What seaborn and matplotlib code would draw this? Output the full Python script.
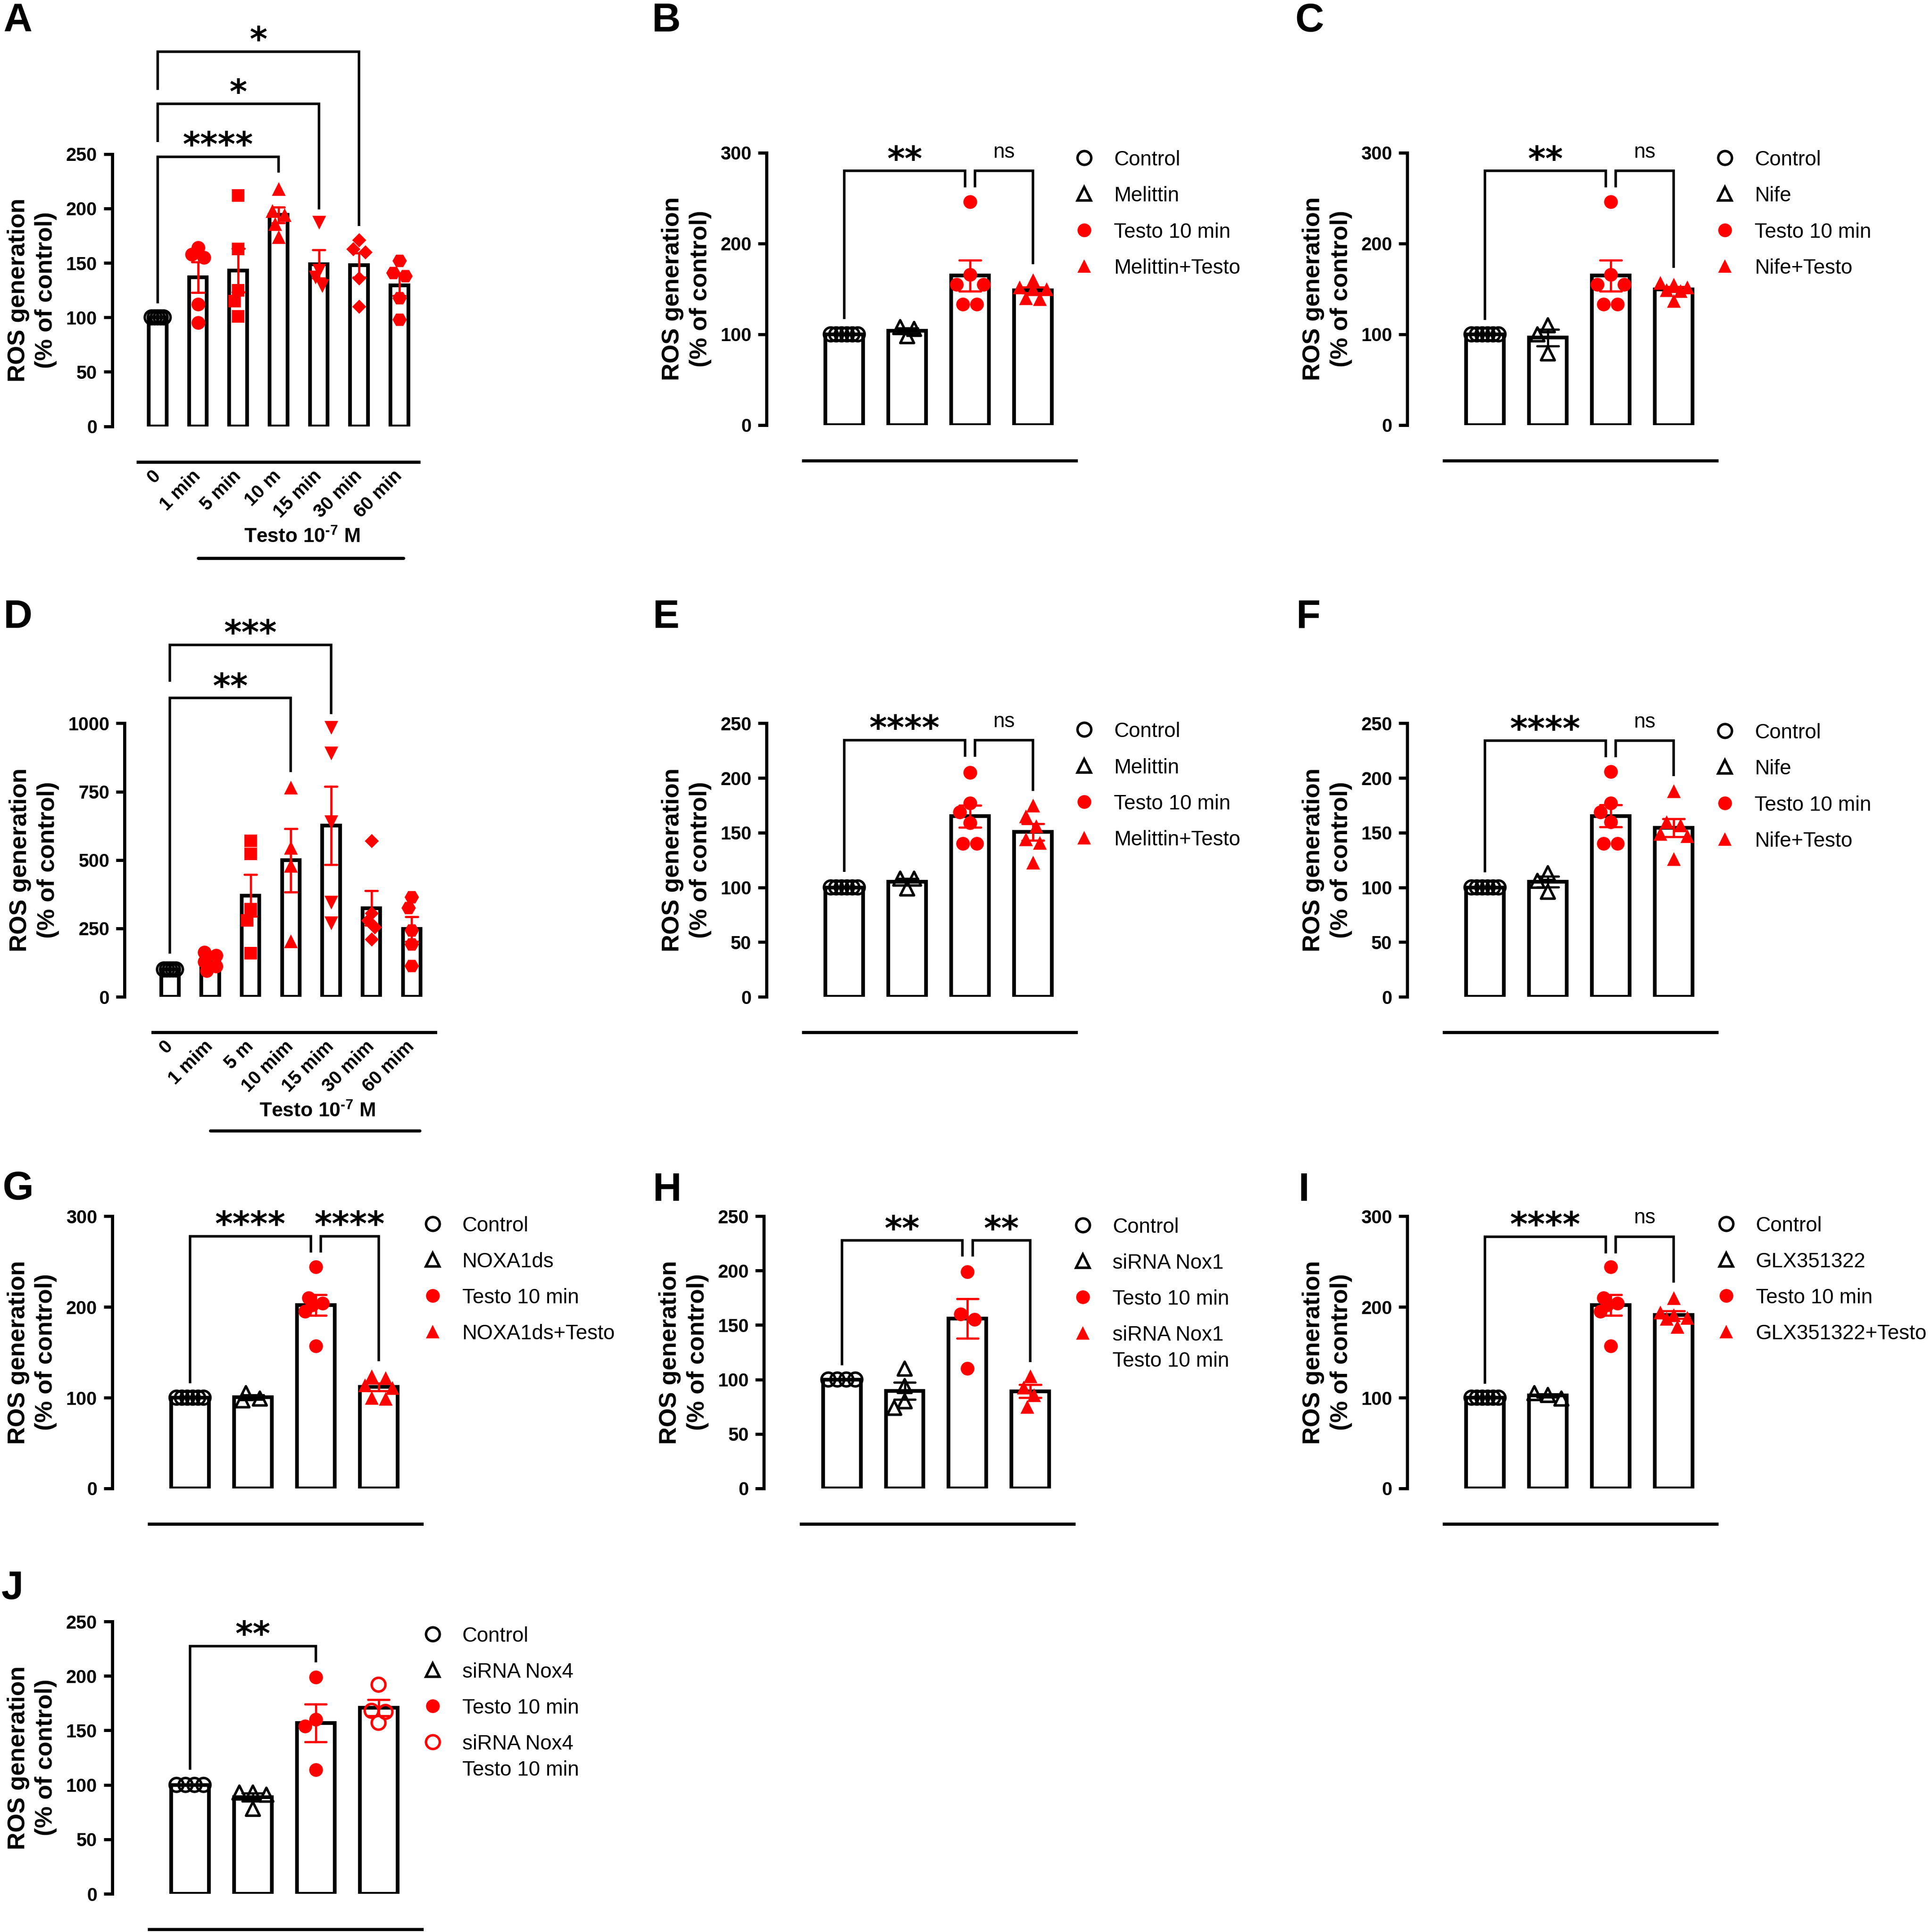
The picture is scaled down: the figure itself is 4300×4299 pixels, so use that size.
import numpy as np
import pandas as pd
import matplotlib.pyplot as plt
import matplotlib.transforms as mtrans
from matplotlib.lines import Line2D
import seaborn as sns

sns.set_style('ticks', {'axes.edgecolor': 'black', 'xtick.color': 'black', 'ytick.color': 'black',
                        'text.color': 'black', 'axes.labelcolor': 'black'})
plt.rcParams['font.family'] = ['Liberation Sans', 'DejaVu Sans']
plt.rcParams['mathtext.fontset'] = 'custom'
plt.rcParams['mathtext.rm'] = 'Liberation Sans:bold'
plt.rcParams['mathtext.bf'] = 'Liberation Sans:bold'

RED = '#ff0000'

# ---------------- data ----------------
# A: time course, Testo 10^-7 M
a_labels = ['0', '1 min', '5 min', '10 m', '15 min', '30 min', '60 min']
a_0 = [100, 100, 100, 100, 100]
a_1 = [164, 158, 155, 112, 95]
a_5 = [212, 163, 125, 115, 101]
a_10 = [218, 198, 194, 186, 174]
a_15 = [187, 143, 137, 129]
a_30 = [171, 163, 160, 136, 110]
a_60 = [152, 141, 138, 118, 98]

# B: melittin
b_labels = ['Control', 'Melittin', 'Testo 10 min', 'Melittin+Testo']
b_ctrl = [100, 100, 100, 100, 100, 100]
b_mel = [98, 108, 106]
b_testo = [246, 166, 155, 155, 133, 133]
b_mel_testo = [160, 152, 150, 150, 139, 140]

# C: nifedipine
c_labels = ['Control', 'Nife', 'Testo 10 min', 'Nife+Testo']
c_ctrl = [100, 100, 100, 100, 100, 100]
c_nife = [110, 100, 79]
c_testo = [246, 166, 155, 155, 133, 133]
c_nife_testo = [157, 155, 152, 149, 148, 137]

# D: second time course
d_labels = ['0', '1 mim', '5 m', '10 mim', '15 mim', '30 mim', '60 mim']
d_0 = [100, 100, 100, 100, 100]
d_1 = [162, 152, 128, 112, 96]
d_5 = [570, 522, 320, 280, 160]
d_10 = [766, 546, 480, 204]
d_15 = [985, 890, 640, 345, 270]
d_30 = [570, 305, 280, 255, 210]
d_60 = [364, 325, 243, 193, 114]

# E: melittin
e_labels = ['Control', 'Melittin', 'Testo 10 min', 'Melittin+Testo']
e_ctrl = [100, 100, 100, 100, 100, 100]
e_mel = [99, 108, 108]
e_testo = [205, 177, 169, 159, 140, 140]
e_mel_testo = [175, 165, 156, 144, 141, 123]

# F: nifedipine
f_labels = ['Control', 'Nife', 'Testo 10 min', 'Nife+Testo']
f_ctrl = [100, 100, 100, 100, 100, 100]
f_nife = [113, 106, 96]
f_testo = [206, 177, 169, 160, 140, 140]
f_nife_testo = [188, 160, 157, 149, 147, 126]

# G: NOXA1ds
g_labels = ['Control', 'NOXA1ds', 'Testo 10 min', 'NOXA1ds+Testo']
g_ctrl = [100, 100, 100, 100, 100, 100]
g_noxa = [97, 105, 99]
g_testo = [244, 210, 204, 202, 195, 157]
g_noxa_testo = [124, 122, 114, 111, 99, 100]

# H: siRNA Nox1
h_labels = ['Control', 'siRNA Nox1', 'Testo 10 min', 'siRNA Nox1\nTesto 10 min']
h_ctrl = [100, 100, 100, 100]
h_si = [110, 94, 80, 74]
h_testo = [199, 160, 155, 110]
h_si_testo = [103, 93, 86, 75]

# I: GLX351322
i_labels = ['Control', 'GLX351322', 'Testo 10 min', 'GLX351322+Testo']
i_ctrl = [100, 100, 100, 100, 100, 100]
i_glx = [99, 105, 103]
i_testo = [244, 210, 204, 202, 195, 157]
i_glx_testo = [210, 194, 191, 188, 187, 178]

# J: siRNA Nox4
j_labels = ['Control', 'siRNA Nox4', 'Testo 10 min', 'siRNA Nox4\nTesto 10 min']
j_ctrl = [100, 100, 100, 100]
j_si = [93, 93, 91, 78]
j_testo = [199, 160, 154, 114]
j_si_testo = [192, 168, 167, 157]

# significance brackets: (x1, x2, y, left leg end, right leg end, text)
a_sig = [(0, 3, 247.6, 113, 233, '****'), (0, 4, 296, 261, 199, '*'), (0, 5, 344, 309, 184, '*')]
b_sig = [(0, 1.92, 280, 117, 262, '**'), (2.08, 3, 280, 262, 177, 'ns')]
c_sig = [(0, 1.92, 280, 116, 262, '**'), (2.08, 3, 280, 262, 173, 'ns')]
d_sig = [(0, 3, 1092, 158, 822, '**'), (0, 4, 1287, 1151, 1033, '***')]
e_sig = [(0, 1.92, 234.6, 114, 219.5, '****'), (2.08, 3, 234.6, 219.5, 188, 'ns')]
f_sig = [(0, 1.92, 234, 113.6, 219, '****'), (2.08, 3, 234, 219, 201.5, 'ns')]
g_sig = [(0, 1.92, 278, 116, 260, '****'), (2.08, 3, 278, 260, 140, '****')]
h_sig = [(0, 1.92, 227.7, 113, 213, '**'), (2.08, 3, 227.7, 213, 116, '**')]
i_sig = [(0, 1.92, 277.5, 115.5, 259, '****'), (2.08, 3, 277.5, 259, 226.6, 'ns')]
j_sig = [(0, 2, 227.4, 113.8, 212.3, '**')]

# marker styles: (marker, colour, filled)
time_styles = [('o', 'black', False), ('o', RED, True), ('s', RED, True), ('^', RED, True),
               ('v', RED, True), ('D', RED, True), ('H', RED, True)]
four_styles = [('o', 'black', False), ('^', 'black', False), ('o', RED, True), ('^', RED, True)]
nox4_styles = [('o', 'black', False), ('^', 'black', False), ('o', RED, True), ('o', RED, False)]

MS = {'o': 22, 's': 20, '^': 22, 'v': 22, 'D': 16, 'H': 23}
DOT_PX = 31.0
S = 1568.0  # layout grid, reference pixels / 2.742

fig = plt.figure(figsize=(43, 42.99), dpi=100)


def spread(ax, vals, span):
    # deterministic Prism-like horizontal spread of the dots in one column
    vals = np.asarray(vals, float)
    ypx = ax.transData.transform(np.column_stack([np.zeros_like(vals), vals]))[:, 1]
    upx = ax.transData.transform((1, 0))[0] - ax.transData.transform((0, 0))[0]
    d = DOT_PX / upx
    order = np.argsort(-vals, kind='stable')
    rows, row = [], []
    for i in order:
        if row and ypx[row[0]] - ypx[i] > 0.4 * DOT_PX:
            rows.append(row)
            row = []
        row.append(i)
    rows.append(row)
    offs = np.zeros(len(vals))
    placed = []
    for r in rows:
        n = len(r)
        steps = [0.0] if n == 1 else [min(d, span / (n - 1)), span / (n - 1)]
        best, best_gap = None, -1.0
        for step in steps:
            base = (np.arange(n) - (n - 1) / 2) * step
            for k in [0, -1, 1, -2, 2, -3, 3, -4, 4]:
                cand = base + k * d / 4
                if np.abs(cand).max() > span / 2 + 1e-9:
                    continue
                gaps = [np.hypot((cx - px) * upx, cy - py)
                        for cx, cy in zip(cand, ypx[r]) for px, py in placed]
                gap = min(gaps) if gaps else np.inf
                if gap > best_gap:
                    best, best_gap = cand, gap
                if gap >= 0.9 * DOT_PX:
                    break
            if best_gap >= 0.9 * DOT_PX:
                break
        offs[r] = best
        placed += list(zip(best, ypx[r]))
    return offs


def panel(rect, labels, values, styles, yticks, xlim, bar_w, span, cap, line, sig, time_axis=False):
    left, zero_y, top_y, width = rect
    ax = fig.add_axes([left / S, 1 - zero_y / S, width / S, (zero_y - top_y) / S])
    df = pd.DataFrame({'group': np.repeat(labels, [len(v) for v in values]),
                       'value': np.concatenate(values)})
    for want_red in (False, True):
        keep = [lab for lab, st in zip(labels, styles) if (st[1] == RED) == want_red]
        sub = df[df['group'].isin(keep)]
        sns.barplot(data=sub, x='group', y='value', order=labels, errorbar='se', capsize=cap,
                    width=bar_w, color='white', edgecolor='black', linewidth=6,
                    err_kws={'color': RED if want_red else 'black', 'linewidth': 3.5, 'zorder': 4},
                    ax=ax)
    ax.set_xlim(xlim)
    ax.set_ylim(0, yticks[-1])
    ax.set_yticks(yticks)
    ax.set_xlabel('')
    ax.set_ylabel('ROS generation\n(% of control)', fontsize=39, fontweight='bold', labelpad=14,
                  linespacing=1.3)

    for i, (vals, (m, col, filled)) in enumerate(zip(values, styles)):
        xs = i + spread(ax, vals, span)
        ax.scatter(xs, vals, s=MS[m] ** 2, marker=m, facecolors=col if filled else 'none',
                   edgecolors=col, linewidths=0 if filled else 4, zorder=3, clip_on=False)

    sns.despine(ax=ax)
    ax.spines['left'].set_linewidth(5)
    ax.spines['bottom'].set_linewidth(5)
    ax.spines['bottom'].set_position(('outward', 57))
    ax.spines['bottom'].set_bounds(*line)
    ax.tick_params(axis='y', length=14, width=5, labelsize=30, pad=10)
    ax.tick_params(axis='x', length=0, labelsize=30, pad=18)
    plt.setp(ax.get_yticklabels(), fontweight='bold')
    if time_axis:
        ax.set_xticks(range(len(labels)))
        ax.set_xticklabels(labels, rotation=45, ha='right', va='center', rotation_mode='anchor',
                           fontweight='bold')
    else:
        ax.set_xticks([])

    for x1, x2, y, y1, y2, txt in sig:
        ax.plot([x1, x1, x2, x2], [y1, y, y, y2], color='black', lw=4, solid_joinstyle='miter',
                solid_capstyle='butt', clip_on=False, zorder=5)
        if txt == 'ns':
            ax.annotate(txt, ((x1 + x2) / 2, y), xytext=(0, 21), textcoords='offset points',
                        ha='center', va='baseline', fontsize=33, annotation_clip=False)
        else:
            ax.annotate(txt, ((x1 + x2) / 2, y), xytext=(0, 1), textcoords='offset points',
                        ha='center', va='baseline', fontsize=54, fontweight='bold',
                        family='DejaVu Sans', annotation_clip=False)
    return ax


def testo_label(ax, xc, ylab, x1, x2, yline):
    tr = mtrans.blended_transform_factory(ax.transData, ax.transAxes)
    ax.text(xc, ylab, 'Testo 10$^{\\text{-7}}$ M', transform=tr, ha='center', va='center',
            fontsize=32, fontweight='bold')
    ax.plot([x1, x2], [yline, yline], transform=tr, color='black', lw=5, clip_on=False)


def legend(ax, labels, styles, mx, my):
    handles = [Line2D([], [], linestyle='none', marker=m, markersize=MS[m],
                      markerfacecolor=c if f else 'none', markeredgecolor=c,
                      markeredgewidth=0 if f else 4) for m, c, f in styles]
    leg = ax.legend(handles, labels, loc='upper left',
                    bbox_to_anchor=((mx - 6.7) / S, 1 - (my - 7.1) / S),
                    bbox_transform=fig.transFigure, frameon=False, fontsize=33, handlelength=0.8,
                    handleheight=0.85, handletextpad=1.04, labelspacing=0.79, borderpad=0,
                    borderaxespad=0)
    for t in leg.get_texts():
        t.set_linespacing(1.4)
    # keep the marker level with the first line of two-line labels
    for col in leg._legend_handle_box.get_children():
        for row in col.get_children():
            row.align = 'top'


T7 = dict(xlim=(-1.13, 6.7), bar_w=0.44, span=0.3, cap=0.3, time_axis=True)
F4 = dict(xlim=(-1.24, 3.76), bar_w=0.6, span=0.43, cap=0.34, line=(-0.65, 3.69))

ax = panel((91, 346, 125, 256), a_labels, [a_0, a_1, a_5, a_10, a_15, a_30, a_60], time_styles,
           [0, 50, 100, 150, 200, 250], line=(-0.49, 6.48), sig=a_sig, **T7)
testo_label(ax, 3.58, -0.407, 1.0, 6.1, -0.484)

ax = panel((101, 809, 587, 256), d_labels, [d_0, d_1, d_5, d_10, d_15, d_30, d_60], time_styles,
           [0, 250, 500, 750, 1000], line=(-0.43, 6.59), sig=d_sig, **T7)
testo_label(ax, 3.66, -0.419, 1.0, 6.2, -0.489)

four = [
    ((622, 345, 124), b_labels, [b_ctrl, b_mel, b_testo, b_mel_testo], four_styles, [0, 100, 200, 300], b_sig, (880, 129)),
    ((1142, 345, 124), c_labels, [c_ctrl, c_nife, c_testo, c_nife_testo], four_styles, [0, 100, 200, 300], c_sig, (1400, 129)),
    ((622, 809, 587), e_labels, [e_ctrl, e_mel, e_testo, e_mel_testo], four_styles, [0, 50, 100, 150, 200, 250], e_sig, (880, 593)),
    ((1142, 809, 587), f_labels, [f_ctrl, f_nife, f_testo, f_nife_testo], four_styles, [0, 50, 100, 150, 200, 250], f_sig, (1400, 594)),
    ((91, 1208, 987), g_labels, [g_ctrl, g_noxa, g_testo, g_noxa_testo], four_styles, [0, 100, 200, 300], g_sig, (351, 994)),
    ((620, 1208, 987), h_labels, [h_ctrl, h_si, h_testo, h_si_testo], four_styles, [0, 50, 100, 150, 200, 250], h_sig, (879, 995)),
    ((1142, 1208, 987), i_labels, [i_ctrl, i_glx, i_testo, i_glx_testo], four_styles, [0, 100, 200, 300], i_sig, (1401, 994)),
    ((91, 1537, 1316), j_labels, [j_ctrl, j_si, j_testo, j_si_testo], nox4_styles, [0, 50, 100, 150, 200, 250], j_sig, (351, 1327)),
]
for (left, zy, ty), labels, values, styles, yticks, sig, (mx, my) in four:
    ax = panel((left, zy, ty, 255), labels, values, styles, yticks, sig=sig, **F4)
    legend(ax, labels, styles, mx, my)

for letter, x, y in [('A', 3, 8), ('B', 529, 8), ('C', 1051, 8), ('D', 3, 492), ('E', 530, 492),
                     ('F', 1052, 492), ('G', 2, 956), ('H', 530, 957), ('I', 1054, 957), ('J', 1, 1280)]:
    fig.text(x / S, 1 - (y - 6.1) / S, letter, fontsize=64, fontweight='bold', ha='left', va='top')

fig.savefig('out.png', dpi=100)
